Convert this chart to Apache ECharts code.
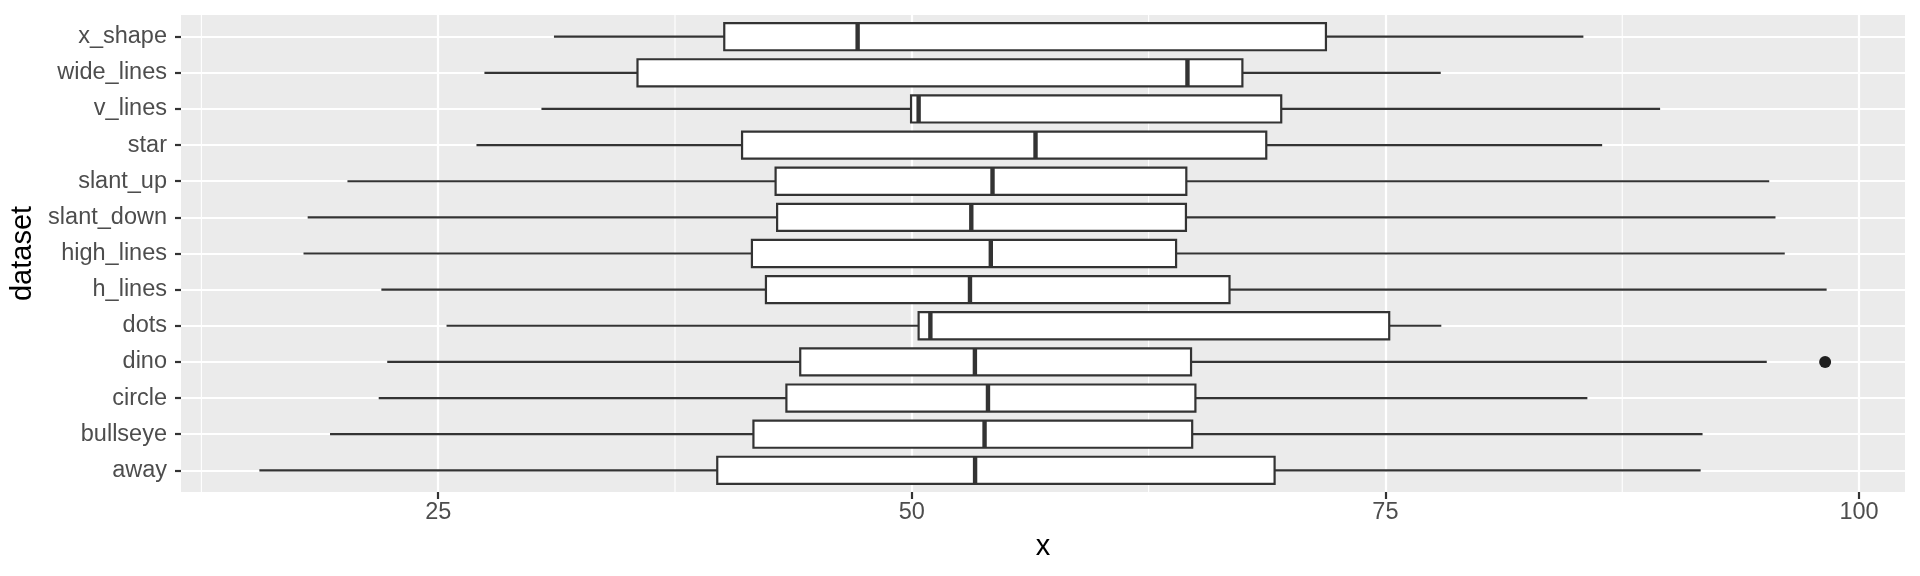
<!DOCTYPE html>
<html><head><meta charset="utf-8">
<script src="https://cdn.jsdelivr.net/npm/echarts@6/dist/echarts.min.js"></script>
<style>html,body{margin:0;padding:0;background:#fff}#c{width:1920px;height:576px}</style>
</head><body><div id="c"></div>
<script>
const categories = ['away','bullseye','circle','dino','dots','h_lines','high_lines','slant_down','slant_up','star','v_lines','wide_lines','x_shape'];
const lowerWhisker = [15.56, 19.29, 21.86, 22.31, 25.44, 22.00, 17.89, 18.11, 20.21, 27.02, 30.45, 27.44, 31.11];
const q1           = [39.73, 41.64, 43.38, 44.11, 50.36, 42.30, 41.56, 42.89, 42.81, 41.04, 49.96, 35.52, 40.10];
const median       = [53.34, 53.84, 54.02, 53.33, 50.98, 53.07, 54.17, 53.14, 54.26, 56.53, 50.36, 64.55, 47.14];
const q3           = [69.15, 64.80, 64.97, 64.74, 75.20, 66.77, 63.95, 64.47, 64.49, 68.71, 69.50, 67.45, 71.86];
const upperWhisker = [91.64, 91.74, 85.66, 95.13, 77.95, 98.29, 96.08, 95.59, 95.26, 86.44, 89.50, 77.92, 85.45];
const outlierValues = [98.21];
const outlierGroups = ['dino'];
const xTicks = [25, 50, 75, 100];
const xMinorTicks = [12.5, 37.5, 62.5, 87.5];

const FONT = '"Liberation Sans", Arial, Helvetica, sans-serif';
const allVals = lowerWhisker.concat(upperWhisker, outlierValues);
const lo = Math.min(...allVals), hi = Math.max(...allVals);
const pad = (hi - lo) * 0.05;
const xMin = lo - pad, xMax = hi + pad;
const yMin = -0.6, yMax = categories.length - 1 + 0.6;
const yIdx = categories.map((c, i) => i);
const boxData = categories.map((c, i) => [i, lowerWhisker[i], q1[i], median[i], q3[i], upperWhisker[i]]);
const outlierData = outlierValues.map((v, k) => [v, categories.indexOf(outlierGroups[k])]);

function renderBox(params, api) {
  const i = api.value(0);
  const l = api.coord([api.value(1), i]);
  const a = api.coord([api.value(2), i]);
  const m = api.coord([api.value(3), i]);
  const b = api.coord([api.value(4), i]);
  const u = api.coord([api.value(5), i]);
  const h = api.size([0, 0.75])[1];
  const y = a[1];
  const ls = {stroke: '#333333', lineWidth: 2.2};
  return {type: 'group', children: [
    {type: 'line', shape: {x1: l[0], y1: y, x2: a[0], y2: y}, style: ls},
    {type: 'line', shape: {x1: b[0], y1: y, x2: u[0], y2: y}, style: ls},
    {type: 'rect', shape: {x: a[0], y: y - h / 2, width: b[0] - a[0], height: h}, style: {fill: '#ffffff', stroke: '#333333', lineWidth: 2.2}},
    {type: 'line', shape: {x1: m[0], y1: y - h / 2, x2: m[0], y2: y + h / 2}, style: {stroke: '#333333', lineWidth: 4.4}}
  ]};
}
function renderMinor(params, api) {
  const x = api.value(0);
  const p0 = api.coord([x, yMin]);
  const p1 = api.coord([x, yMax]);
  return {type: 'line', shape: {x1: p0[0], y1: p0[1], x2: p1[0], y2: p1[1]}, style: {stroke: '#ffffff', lineWidth: 1.1}};
}

const chart = echarts.init(document.getElementById('c'));
chart.setOption({
  animation: false,
  grid: {left: 181, right: 15, top: 15, bottom: 84, show: true, backgroundColor: '#EBEBEB', borderWidth: 0},
  xAxis: {
    type: 'value', min: xMin, max: xMax, position: 'bottom',
    axisLine: {show: false, onZero: false},
    axisTick: {show: true, customValues: xTicks, length: 7, lineStyle: {color: '#333333', width: 2.2}},
    axisLabel: {customValues: xTicks, color: '#4D4D4D', fontSize: 23.5, fontFamily: FONT, margin: 9},
    splitLine: {show: true, lineStyle: {color: '#ffffff', width: 2.2}},
    name: 'x', nameLocation: 'middle', nameGap: 40,
    nameTextStyle: {color: '#000000', fontSize: 29, fontFamily: FONT}
  },
  yAxis: {
    type: 'value', min: yMin, max: yMax, position: 'left',
    axisLine: {show: false, onZero: false},
    axisTick: {show: true, customValues: yIdx, length: 6, lineStyle: {color: '#333333', width: 2.2}},
    axisLabel: {customValues: yIdx, formatter: v => categories[Math.round(v)], color: '#4D4D4D', fontSize: 23.5, fontFamily: FONT, margin: 14},
    splitLine: {show: true, lineStyle: {color: '#ffffff', width: 2.2}},
    name: 'dataset', nameLocation: 'middle', nameGap: 140, nameRotate: 90,
    nameTextStyle: {color: '#000000', fontSize: 29, fontFamily: FONT}
  },
  series: [{
    type: 'custom', renderItem: renderMinor, data: xMinorTicks.map(v => [v]),
    encode: {x: 0}, silent: true, z: 1
  }, {
    type: 'custom', renderItem: renderBox, data: boxData,
    encode: {x: [1, 2, 3, 4, 5], y: 0}, z: 5
  }, {
    type: 'scatter', data: outlierData,
    symbol: 'circle', symbolSize: 12, itemStyle: {color: '#1F1F1F', opacity: 1}, z: 6
  }]
});
</script></body></html>
